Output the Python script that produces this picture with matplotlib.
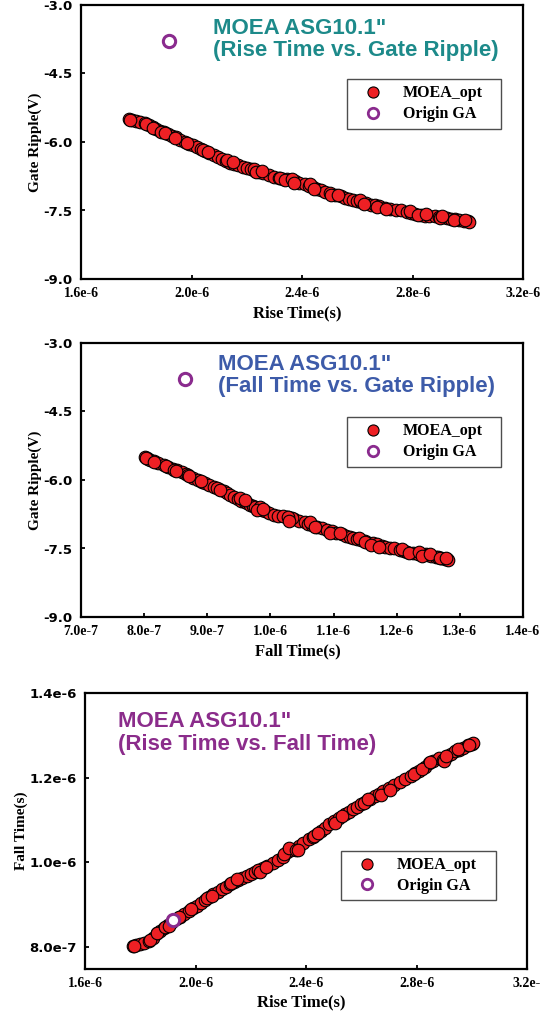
import numpy as np
import matplotlib
matplotlib.use("Agg")
import matplotlib.pyplot as plt
from matplotlib.lines import Line2D

# Pareto front (times in microseconds, ripple in V)
rise_us = [
    1.775, 1.785, 1.800, 1.815, 1.830, 1.845, 1.860, 1.870, 1.885, 1.900,
    1.915, 1.930, 1.945, 1.960, 1.975, 1.990, 2.005, 2.020, 2.035, 2.050,
    2.065, 2.080, 2.095, 2.110, 2.125, 2.140, 2.155, 2.170, 2.185, 2.200,
    2.215, 2.230, 2.245, 2.260, 2.280, 2.300, 2.315, 2.330, 2.345, 2.360,
    2.375, 2.390, 2.410, 2.425, 2.440, 2.455, 2.470, 2.485, 2.500, 2.520,
    2.540, 2.555, 2.570, 2.585, 2.600, 2.615, 2.630, 2.650, 2.665, 2.680,
    2.700, 2.720, 2.740, 2.760, 2.780, 2.795, 2.810, 2.830, 2.845, 2.860,
    2.880, 2.895, 2.910, 2.925, 2.940, 2.955, 2.970, 2.985, 3.000, 3.005,
    # overlapping neighbours
    1.778, 1.835, 1.862, 1.888, 1.905, 1.940, 1.985, 2.040, 2.060, 2.130,
    2.150, 2.225, 2.235, 2.255, 2.320, 2.340, 2.365, 2.370, 2.430, 2.445,
    2.505, 2.530, 2.610, 2.625, 2.670, 2.705, 2.790, 2.820, 2.850, 2.900,
    2.905, 2.950, 2.990,
]
ripple_v = [
    -5.50, -5.52, -5.55, -5.57, -5.58, -5.63, -5.68, -5.72, -5.75, -5.78,
    -5.82, -5.87, -5.90, -5.95, -6.00, -6.04, -6.07, -6.12, -6.16, -6.20,
    -6.25, -6.29, -6.33, -6.37, -6.42, -6.45, -6.48, -6.51, -6.54, -6.57,
    -6.60, -6.63, -6.65, -6.68, -6.72, -6.76, -6.79, -6.80, -6.82, -6.84,
    -6.86, -6.89, -6.92, -6.96, -6.99, -7.03, -7.06, -7.09, -7.12, -7.16,
    -7.19, -7.22, -7.24, -7.26, -7.29, -7.31, -7.33, -7.37, -7.39, -7.41,
    -7.44, -7.46, -7.48, -7.50, -7.53, -7.55, -7.57, -7.59, -7.61, -7.62,
    -7.63, -7.64, -7.65, -7.67, -7.68, -7.69, -7.70, -7.72, -7.74, -7.75,
    -5.52, -5.60, -5.70, -5.79, -5.80, -5.91, -6.03, -6.18, -6.21, -6.40,
    -6.44, -6.60, -6.66, -6.64, -6.78, -6.84, -6.80, -6.90, -6.92, -7.02,
    -7.16, -7.15, -7.27, -7.36, -7.42, -7.47, -7.52, -7.60, -7.58, -7.66,
    -7.63, -7.71, -7.70,
]
fall_us = [
    0.802, 0.804, 0.806, 0.810, 0.815, 0.822, 0.832, 0.838, 0.845, 0.852,
    0.860, 0.866, 0.870, 0.878, 0.886, 0.892, 0.897, 0.903, 0.910, 0.918,
    0.926, 0.931, 0.936, 0.942, 0.948, 0.954, 0.959, 0.963, 0.967, 0.972,
    0.976, 0.982, 0.986, 0.991, 0.998, 1.006, 1.012, 1.024, 1.028, 1.031,
    1.038, 1.046, 1.054, 1.060, 1.066, 1.073, 1.081, 1.090, 1.097, 1.104,
    1.113, 1.120, 1.126, 1.130, 1.137, 1.143, 1.149, 1.156, 1.162, 1.168,
    1.176, 1.182, 1.189, 1.196, 1.205, 1.211, 1.216, 1.226, 1.234, 1.240,
    1.246, 1.242, 1.250, 1.255, 1.262, 1.266, 1.270, 1.276, 1.280, 1.282,
    0.803, 0.816, 0.834, 0.848, 0.850, 0.871, 0.890, 0.915, 0.920, 0.952,
    0.960, 0.983, 0.978, 0.988, 1.020, 1.034, 1.028, 1.030, 1.062, 1.070,
    1.094, 1.110, 1.140, 1.150, 1.160, 1.172, 1.208, 1.220, 1.236, 1.240,
    1.252, 1.268, 1.278,
]

# single design from the original GA
ga_rise_us = 1.918
ga_fall_us = 0.864
ga_ripple_v = -3.78

ripple_ticks = [-3.0, -4.5, -6.0, -7.5, -9.0]
ripple_labels = ["-3.0", "-4.5", "-6.0", "-7.5", "-9.0"]
rise_ticks_us = [1.6, 2.0, 2.4, 2.8, 3.2]
rise_labels = ["1.6e-6", "2.0e-6", "2.4e-6", "2.8e-6", "3.2e-6"]
rise_labels_cut = ["1.6e-6", "2.0e-6", "2.4e-6", "2.8e-6", "3.2e-"]
fall_ticks_us = [0.7, 0.8, 0.9, 1.0, 1.1, 1.2, 1.3, 1.4]
fall_labels = ["7.0e-7", "8.0e-7", "9.0e-7", "1.0e-6", "1.1e-6",
               "1.2e-6", "1.3e-6", "1.4e-6"]
fall_yticks_us = [0.8, 1.0, 1.2, 1.4]
fall_ylabels = ["8.0e-7", "1.0e-6", "1.2e-6", "1.4e-6"]

rise = np.array(rise_us) * 1e-6
fall = np.array(fall_us) * 1e-6
ripple = np.array(ripple_v)

RED = "#ee2024"
PURPLE = "#8a2b8e"
SANS = "Liberation Sans"
SERIF = "Liberation Serif"

fig = plt.figure(figsize=(5.53, 10.13), dpi=100)


def style_axes(ax, xt, xl, yt, yl, xlabel, ylabel, xlab_y, ylab_x):
    for s in ax.spines.values():
        s.set_linewidth(1.6)
    ax.tick_params(direction="in", length=3, width=1.3)
    ax.tick_params(axis="x", pad=6)
    ax.tick_params(axis="y", pad=6)
    ax.set_xticks(xt)
    ax.set_xticklabels(xl, family=SERIF, fontweight="bold", fontsize=10)
    ax.set_yticks(yt)
    ax.set_yticklabels(yl, family="DejaVu Sans", fontweight="bold",
                       fontsize=9.5)
    ax.set_xlabel(xlabel, family=SERIF, fontweight="bold", fontsize=12,
                  va="center")
    ax.xaxis.set_label_coords(0.49, xlab_y)
    ax.set_ylabel(ylabel, family=SERIF, fontweight="bold", fontsize=11,
                  va="center")
    ax.yaxis.set_label_coords(ylab_x, 0.5)


def add_legend(ax, x0, ytop, w):
    handles = [
        Line2D([], [], ls="none", marker="o", ms=8, mfc=RED, mec="black",
               mew=0.8),
        Line2D([], [], ls="none", marker="o", ms=7.5, mfc="white",
               mec=PURPLE, mew=2.0),
    ]
    leg = ax.legend(handles, ["MOEA_opt", "Origin GA"],
                    loc="upper left", bbox_to_anchor=(x0, ytop - 0.3, w, 0.3),
                    mode="expand", borderaxespad=0, fancybox=False,
                    prop={"family": SERIF, "weight": "bold", "size": 11.5},
                    handlelength=2.5, handletextpad=0.6, borderpad=0.4,
                    labelspacing=0.3)
    leg.get_frame().set_edgecolor("#222222")
    leg.get_frame().set_linewidth(1.0)


def scatter_front(ax, x, y, gx, gy):
    ax.scatter(x, y, s=82, c=RED, edgecolors="black", linewidths=0.8,
               zorder=3)
    ax.scatter([gx], [gy], s=78, facecolors="white", edgecolors=PURPLE,
               linewidths=2.2, zorder=4)


def add_title(ax, x, y1, y2, line2, color):
    for y, s in ((y1, "MOEA ASG10.1\""), (y2, line2)):
        ax.text(x, y, s, transform=ax.transAxes, family=SANS,
                fontweight="bold", fontsize=16, color=color,
                va="center", ha="left")


# panel 1: rise time vs gate ripple
ax1 = fig.add_axes([81 / 553, 1 - 279 / 1013, 442 / 553, 274 / 1013])
scatter_front(ax1, rise, ripple, ga_rise_us * 1e-6, ga_ripple_v)
ax1.set_xlim(1.6e-6, 3.2e-6)
ax1.set_ylim(-9.0, -3.0)
style_axes(ax1, np.array(rise_ticks_us) * 1e-6, rise_labels,
           ripple_ticks, ripple_labels, "Rise Time(s)", "Gate Ripple(V)",
           -34 / 274, -0.104)
add_title(ax1, 0.299, 0.915, 0.833, "(Rise Time vs. Gate Ripple)", "#1d8a8a")
add_legend(ax1, 0.602, 0.730, 0.348)

# panel 2: fall time vs gate ripple
ax2 = fig.add_axes([81 / 553, 1 - 617 / 1013, 442 / 553, 274 / 1013])
scatter_front(ax2, fall, ripple, ga_fall_us * 1e-6, ga_ripple_v)
ax2.set_xlim(0.7e-6, 1.4e-6)
ax2.set_ylim(-9.0, -3.0)
style_axes(ax2, np.array(fall_ticks_us) * 1e-6, fall_labels,
           ripple_ticks, ripple_labels, "Fall Time(s)", "Gate Ripple(V)",
           -34 / 274, -0.104)
add_title(ax2, 0.31, 0.922, 0.840, "(Fall Time vs. Gate Ripple)", "#3d5ba9")
add_legend(ax2, 0.602, 0.730, 0.348)

# panel 3: rise time vs fall time
ax3 = fig.add_axes([85 / 553, 1 - 969 / 1013, 442 / 553, 276 / 1013])
scatter_front(ax3, rise, fall, ga_rise_us * 1e-6, ga_fall_us * 1e-6)
ax3.set_xlim(1.6e-6, 3.2e-6)
ax3.set_ylim(0.748e-6, 1.4e-6)
style_axes(ax3, np.array(rise_ticks_us) * 1e-6, rise_labels_cut,
           np.array(fall_yticks_us) * 1e-6, fall_ylabels,
           "Rise Time(s)", "Fall Time(s)", -33 / 276, -0.145)
add_title(ax3, 0.075, 0.895, 0.815, "(Rise Time vs. Fall Time)", "#8b2c8b")
add_legend(ax3, 0.579, 0.428, 0.351)

fig.savefig("out.png", dpi=100)
